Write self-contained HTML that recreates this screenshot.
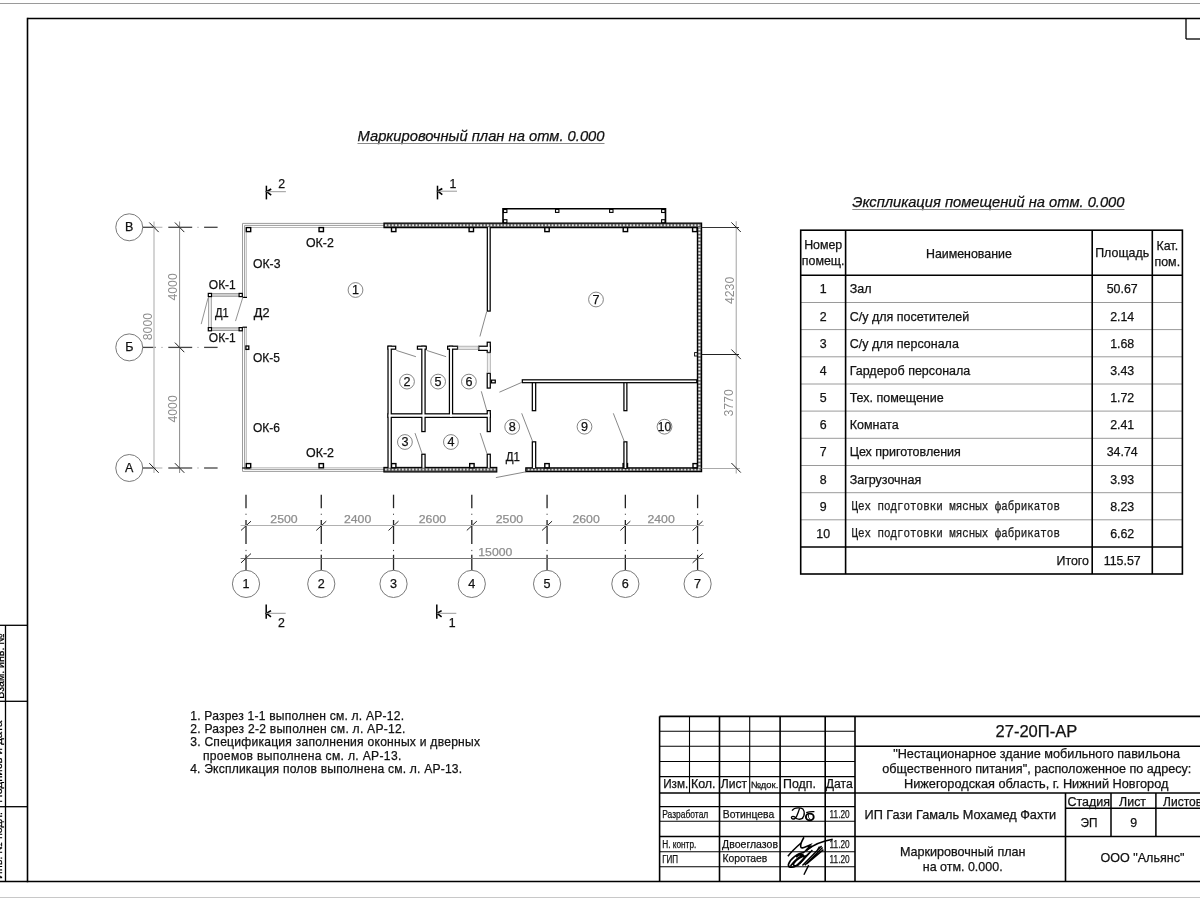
<!DOCTYPE html>
<html><head><meta charset="utf-8"><style>
html,body{margin:0;padding:0;background:#fff;}
svg{display:block;will-change:transform;}
text{font-family:"Liberation Sans", sans-serif;stroke-width:0.25;}
</style></head><body>
<svg width="1200" height="900" viewBox="0 0 1200 900">
<rect width="1200" height="900" fill="#fff"/>
<line x1="0" y1="3.5" x2="1200" y2="3.5" stroke="#9a9a9a" stroke-width="1" />
<line x1="0" y1="897.5" x2="1200" y2="897.5" stroke="#c8c8c8" stroke-width="1" />
<line x1="27.5" y1="18.5" x2="1200" y2="18.5" stroke="#000" stroke-width="1.6" />
<line x1="27.5" y1="17.7" x2="27.5" y2="882.3" stroke="#000" stroke-width="1.6" />
<line x1="0" y1="881.5" x2="1200" y2="881.5" stroke="#000" stroke-width="1.6" />
<line x1="1186" y1="18.5" x2="1186" y2="39" stroke="#000" stroke-width="1.3" />
<line x1="1186" y1="39" x2="1200" y2="39" stroke="#000" stroke-width="1.3" />
<line x1="0" y1="625.3" x2="27.5" y2="625.3" stroke="#000" stroke-width="1.3" />
<line x1="0" y1="701.3" x2="27.5" y2="701.3" stroke="#000" stroke-width="1.3" />
<line x1="0" y1="806.7" x2="27.5" y2="806.7" stroke="#000" stroke-width="1.3" />
<line x1="5.5" y1="625.3" x2="5.5" y2="881.5" stroke="#000" stroke-width="1.3" />
<clipPath id="lc"><rect x="0" y="600" width="4.8" height="290"/></clipPath>
<g clip-path="url(#lc)"><text x="0" y="0" font-size="11.8" text-anchor="middle" textLength="65.4" lengthAdjust="spacingAndGlyphs" stroke="#000" transform="translate(4.3,666.1) rotate(-90)">Взам. инв. №</text></g>
<g clip-path="url(#lc)"><text x="0" y="0" font-size="11.8" text-anchor="middle" textLength="82.3" lengthAdjust="spacingAndGlyphs" stroke="#000" transform="translate(2.0,761.7) rotate(-90)">Подпись и дата</text></g>
<g clip-path="url(#lc)"><text x="0" y="0" font-size="11.8" text-anchor="middle" textLength="67" lengthAdjust="spacingAndGlyphs" stroke="#000" transform="translate(2.0,845.5) rotate(-90)">Инв. № подл.</text></g>
<text x="357.5" y="141" font-size="14.75" text-anchor="start" fill="#111" stroke="#111" font-style="italic" textLength="247" lengthAdjust="spacingAndGlyphs" >Маркировочный план на отм. 0.000</text>
<line x1="357.5" y1="143.5" x2="604.5" y2="143.5" stroke="#8a8a8a" stroke-width="1" />
<circle cx="129.25" cy="227.3" r="13.5" stroke="#7a7a7a" stroke-width="1" fill="none"/>
<text x="129.25" y="231.10000000000002" font-size="12.5" text-anchor="middle" fill="#111" stroke="#111" >В</text>
<line x1="142.75" y1="227.3" x2="155.6" y2="227.3" stroke="#444" stroke-width="1.3" />
<line x1="155.6" y1="227.3" x2="162.4" y2="227.3" stroke="#bbb" stroke-width="1.2" />
<line x1="168.3" y1="227.3" x2="192.2" y2="227.3" stroke="#444" stroke-width="1.3" />
<line x1="197.4" y1="227.3" x2="198.6" y2="227.3" stroke="#999" stroke-width="1.0" />
<line x1="204.1" y1="227.3" x2="217.6" y2="227.3" stroke="#444" stroke-width="1.3" />
<circle cx="129.25" cy="347.4" r="13.5" stroke="#7a7a7a" stroke-width="1" fill="none"/>
<text x="129.25" y="351.2" font-size="12.5" text-anchor="middle" fill="#111" stroke="#111" >Б</text>
<line x1="142.75" y1="347.4" x2="155.6" y2="347.4" stroke="#444" stroke-width="1.3" />
<line x1="161.4" y1="347.4" x2="162.6" y2="347.4" stroke="#999" stroke-width="1.0" />
<line x1="168.3" y1="347.4" x2="192.2" y2="347.4" stroke="#444" stroke-width="1.3" />
<line x1="197.4" y1="347.4" x2="198.6" y2="347.4" stroke="#999" stroke-width="1.0" />
<line x1="204.1" y1="347.4" x2="217.6" y2="347.4" stroke="#444" stroke-width="1.3" />
<circle cx="129.25" cy="468.0" r="13.5" stroke="#7a7a7a" stroke-width="1" fill="none"/>
<text x="129.25" y="471.8" font-size="12.5" text-anchor="middle" fill="#111" stroke="#111" >А</text>
<line x1="142.75" y1="468.0" x2="155.6" y2="468.0" stroke="#444" stroke-width="1.3" />
<line x1="155.6" y1="468.0" x2="162.4" y2="468.0" stroke="#bbb" stroke-width="1.2" />
<line x1="168.3" y1="468.0" x2="192.2" y2="468.0" stroke="#444" stroke-width="1.3" />
<line x1="197.4" y1="468.0" x2="198.6" y2="468.0" stroke="#999" stroke-width="1.0" />
<line x1="204.1" y1="468.0" x2="217.6" y2="468.0" stroke="#444" stroke-width="1.3" />
<line x1="154" y1="221.5" x2="154" y2="473" stroke="#c6c6c6" stroke-width="1.5" />
<line x1="179.6" y1="221.5" x2="179.6" y2="473" stroke="#8a8a8a" stroke-width="1" />
<line x1="149.3" y1="222.5" x2="158.7" y2="232.10000000000002" stroke="#222" stroke-width="1" />
<line x1="174.9" y1="222.5" x2="184.29999999999998" y2="232.10000000000002" stroke="#222" stroke-width="1" />
<line x1="174.9" y1="342.59999999999997" x2="184.29999999999998" y2="352.2" stroke="#222" stroke-width="1" />
<line x1="149.3" y1="463.2" x2="158.7" y2="472.8" stroke="#222" stroke-width="1" />
<line x1="174.9" y1="463.2" x2="184.29999999999998" y2="472.8" stroke="#222" stroke-width="1" />
<text x="0" y="0" font-size="12" text-anchor="middle" fill="#8e8e8e" stroke-width="0" textLength="27.4" lengthAdjust="spacingAndGlyphs" transform="translate(177.3,286.9) rotate(-90)">4000</text>
<text x="0" y="0" font-size="12" text-anchor="middle" fill="#8e8e8e" stroke-width="0" textLength="27.4" lengthAdjust="spacingAndGlyphs" transform="translate(177.3,408.9) rotate(-90)">4000</text>
<text x="0" y="0" font-size="12" text-anchor="middle" fill="#8e8e8e" stroke-width="0" textLength="27.4" lengthAdjust="spacingAndGlyphs" transform="translate(152.0,326.6) rotate(-90)">8000</text>
<line x1="266.4" y1="185.7" x2="266.4" y2="199.4" stroke="#000" stroke-width="1.5" />
<path d="M271.2,189.0 L266.7,191.7 L271.2,195.2" stroke="#000" stroke-width="1.6" fill="none" />
<line x1="266.4" y1="191.7" x2="285.9" y2="191.7" stroke="#999" stroke-width="1" />
<text x="281.7" y="187.6" font-size="12.3" text-anchor="middle" fill="#111" stroke="#111" >2</text>
<line x1="437.5" y1="185.7" x2="437.5" y2="199.4" stroke="#000" stroke-width="1.5" />
<path d="M442.3,188.5 L437.8,191.2 L442.3,194.7" stroke="#000" stroke-width="1.6" fill="none" />
<line x1="437.5" y1="191.2" x2="457.0" y2="191.2" stroke="#999" stroke-width="1" />
<text x="452.8" y="187.6" font-size="12.3" text-anchor="middle" fill="#111" stroke="#111" >1</text>
<line x1="266.2" y1="604.6" x2="266.2" y2="618.7" stroke="#000" stroke-width="1.5" />
<path d="M271.0,610.5999999999999 L266.5,613.3 L271.0,616.8" stroke="#000" stroke-width="1.6" fill="none" />
<line x1="266.2" y1="613.3" x2="285.7" y2="613.3" stroke="#999" stroke-width="1" />
<text x="281.5" y="627.2" font-size="12.3" text-anchor="middle" fill="#111" stroke="#111" >2</text>
<line x1="436.8" y1="604.6" x2="436.8" y2="618.7" stroke="#000" stroke-width="1.5" />
<path d="M441.6,610.5999999999999 L437.1,613.3 L441.6,616.8" stroke="#000" stroke-width="1.6" fill="none" />
<line x1="436.8" y1="613.3" x2="456.3" y2="613.3" stroke="#999" stroke-width="1" />
<text x="452.1" y="627.2" font-size="12.3" text-anchor="middle" fill="#111" stroke="#111" >1</text>
<line x1="242.5" y1="223.4" x2="384" y2="223.4" stroke="#9c9c9c" stroke-width="1" />
<line x1="244.6" y1="225.4" x2="384" y2="225.4" stroke="#9c9c9c" stroke-width="1" />
<line x1="246.3" y1="227.5" x2="384" y2="227.5" stroke="#b8b8b8" stroke-width="1" />
<line x1="242.5" y1="223.4" x2="242.5" y2="297.2" stroke="#9c9c9c" stroke-width="1" />
<line x1="242.5" y1="327.2" x2="242.5" y2="471.4" stroke="#9c9c9c" stroke-width="1" />
<line x1="244.6" y1="225.4" x2="244.6" y2="297.2" stroke="#9c9c9c" stroke-width="1" />
<line x1="244.6" y1="327.2" x2="244.6" y2="469.4" stroke="#9c9c9c" stroke-width="1" />
<line x1="246.3" y1="227.5" x2="246.3" y2="297.2" stroke="#b8b8b8" stroke-width="1" />
<line x1="246.3" y1="327.2" x2="246.3" y2="467.8" stroke="#b8b8b8" stroke-width="1" />
<line x1="242.5" y1="471.4" x2="384" y2="471.4" stroke="#9c9c9c" stroke-width="1" />
<line x1="244.6" y1="469.4" x2="384" y2="469.4" stroke="#9c9c9c" stroke-width="1" />
<line x1="246.3" y1="467.8" x2="384" y2="467.8" stroke="#b8b8b8" stroke-width="1" />
<rect x="208.6" y="293.6" width="33.6" height="2.7" stroke="#9c9c9c" stroke-width="1" fill="#d6d6d6" />
<rect x="208.6" y="327.8" width="33.6" height="2.7" stroke="#9c9c9c" stroke-width="1" fill="#d6d6d6" />
<rect x="208.6" y="296.3" width="2.7" height="31.5" stroke="#9c9c9c" stroke-width="1" fill="#f8f8f8" />
<rect x="208.3" y="293.4" width="3.2" height="3.2" stroke="#000" stroke-width="1.2" fill="#fff" />
<rect x="239.1" y="293.4" width="3.2" height="3.2" stroke="#000" stroke-width="1.2" fill="#fff" />
<rect x="208.3" y="327.59999999999997" width="3.2" height="3.2" stroke="#000" stroke-width="1.2" fill="#fff" />
<rect x="239.1" y="327.59999999999997" width="3.2" height="3.2" stroke="#000" stroke-width="1.2" fill="#fff" />
<line x1="242.5" y1="297.4" x2="247" y2="297.4" stroke="#000" stroke-width="1.2" />
<line x1="242.5" y1="327.2" x2="247" y2="327.2" stroke="#000" stroke-width="1.2" />
<line x1="242.2" y1="468.0" x2="250" y2="468.0" stroke="#111" stroke-width="1.3" />
<line x1="208" y1="298.1" x2="201.2" y2="324.1" stroke="#777" stroke-width="0.8" />
<line x1="242.8" y1="297.4" x2="235.5" y2="321.1" stroke="#777" stroke-width="0.8" />
<defs><pattern id="hp" width="3.4" height="4.4" patternUnits="userSpaceOnUse" y="223.2"><rect width="3.4" height="4.4" fill="#555"/><circle cx="1.7" cy="2.0" r="1.0" fill="#f8f8f8"/></pattern><pattern id="hpb" width="3.4" height="4.4" patternUnits="userSpaceOnUse" y="467.6"><rect width="3.4" height="4.4" fill="#555"/><circle cx="1.7" cy="2.0" r="1.0" fill="#f8f8f8"/></pattern><pattern id="hpv" width="4.4" height="3.4" patternUnits="userSpaceOnUse" x="697.3"><rect width="4.4" height="3.4" fill="#555"/><circle cx="2.1" cy="1.7" r="1.0" fill="#f8f8f8"/></pattern></defs>
<rect x="384" y="223.2" width="317.6" height="4.4" fill="url(#hp)"/>
<rect x="697.4" y="227.6" width="4.2" height="240.2" fill="url(#hpv)"/>
<rect x="525.8" y="467.8" width="175.8" height="3.8" fill="url(#hpb)"/>
<path d="M384,223.2 H701.6 V471.6 H525.8 V467.8 H697.4 V227.6 H384 Z" stroke="#000" stroke-width="1.2" fill="none" />
<rect x="383.9" y="467.4" width="112.9" height="4.6" stroke="#000" stroke-width="1.1" fill="url(#hpb)" />
<path d="M503,223 V208.7 H665.5 V223" stroke="#000" stroke-width="1.6" fill="none" />
<rect x="503.5" y="209.5" width="3.4" height="3.0" stroke="#000" stroke-width="1.1" fill="#fff" />
<rect x="555.5" y="209.4" width="3.4" height="3.0" stroke="#000" stroke-width="1.1" fill="#fff" />
<rect x="609.5999999999999" y="209.4" width="3.4" height="3.0" stroke="#000" stroke-width="1.1" fill="#fff" />
<rect x="661.5999999999999" y="209.5" width="3.4" height="3.0" stroke="#000" stroke-width="1.1" fill="#fff" />
<rect x="503.5" y="219.7" width="3.4" height="3.0" stroke="#000" stroke-width="1.1" fill="#fff" />
<rect x="661.5999999999999" y="219.7" width="3.4" height="3.0" stroke="#000" stroke-width="1.1" fill="#fff" />
<rect x="246.3" y="227.6" width="4.4" height="4.0" stroke="#000" stroke-width="1.4" fill="#fff" />
<rect x="319.05" y="227.6" width="4.4" height="4.0" stroke="#000" stroke-width="1.4" fill="#fff" />
<rect x="391.5" y="227.6" width="4.4" height="4.0" stroke="#000" stroke-width="1.4" fill="#fff" />
<rect x="469.1" y="227.6" width="4.4" height="4.0" stroke="#000" stroke-width="1.4" fill="#fff" />
<rect x="544.8" y="227.6" width="4.4" height="4.0" stroke="#000" stroke-width="1.4" fill="#fff" />
<rect x="623.1999999999999" y="227.6" width="4.4" height="4.0" stroke="#000" stroke-width="1.4" fill="#fff" />
<rect x="692.6" y="227.6" width="4.4" height="4.0" stroke="#000" stroke-width="1.4" fill="#fff" />
<rect x="246.3" y="463.6" width="4.4" height="4.2" stroke="#000" stroke-width="1.4" fill="#fff" />
<rect x="319.05" y="463.6" width="4.4" height="4.2" stroke="#000" stroke-width="1.4" fill="#fff" />
<rect x="391.5" y="463.6" width="4.4" height="4.2" stroke="#000" stroke-width="1.4" fill="#fff" />
<rect x="469.7" y="463.6" width="4.4" height="4.2" stroke="#000" stroke-width="1.4" fill="#fff" />
<rect x="544.8" y="463.6" width="4.4" height="4.2" stroke="#000" stroke-width="1.4" fill="#fff" />
<rect x="623.0999999999999" y="463.6" width="4.4" height="4.2" stroke="#000" stroke-width="1.4" fill="#fff" />
<rect x="693.0" y="463.6" width="4.2" height="4.2" stroke="#000" stroke-width="1.4" fill="#fff" />
<rect x="245.9" y="346.0" width="2.9" height="3.4" stroke="#000" stroke-width="1.3" fill="#fff" />
<rect x="387.4" y="345.6" width="4.5" height="122.2" fill="#000"/>
<rect x="387.4" y="345.6" width="8.9" height="4.2" fill="#000"/>
<rect x="421.2" y="345.6" width="4.5" height="86.6" fill="#000"/>
<rect x="416.8" y="345.6" width="10.1" height="4.2" fill="#000"/>
<rect x="448.8" y="345.6" width="4.4" height="72.4" fill="#000"/>
<rect x="447.0" y="345.6" width="11.2" height="4.2" fill="#000"/>
<rect x="387.4" y="413.2" width="103.5" height="4.8" fill="#000"/>
<rect x="486.6" y="410.0" width="4.3" height="22.2" fill="#000"/>
<rect x="421.2" y="453.6" width="4.5" height="14.2" fill="#000"/>
<rect x="486.6" y="453.6" width="4.3" height="14.2" fill="#000"/>
<rect x="478.1" y="345.6" width="12.8" height="5.4" fill="#000"/>
<rect x="486.6" y="341.6" width="4.3" height="11.5" fill="#000"/>
<rect x="486.6" y="372.7" width="4.3" height="16.0" fill="#000"/>
<rect x="490.9" y="379.5" width="5.0" height="4.0" fill="#000"/>
<rect x="486.7" y="227.0" width="4.1" height="84.7" fill="#000"/>
<rect x="521.7" y="379.2" width="175.7" height="4.1" fill="#000"/>
<rect x="531.7" y="382.05" width="4.6" height="29.25" fill="#000"/>
<rect x="531.7" y="441.2" width="4.6" height="26.8" fill="#000"/>
<rect x="623.3" y="382.05" width="4.2" height="29.25" fill="#000"/>
<rect x="623.3" y="441.2" width="4.2" height="26.8" fill="#000"/>
<rect x="388.65" y="346.85" width="2.0" height="120.95" fill="#fff"/>
<rect x="388.65" y="346.85" width="6.4" height="1.7" fill="#fff"/>
<rect x="422.45" y="346.85" width="2.0" height="84.1" fill="#fff"/>
<rect x="418.05" y="346.85" width="7.6" height="1.7" fill="#fff"/>
<rect x="450.05" y="346.85" width="1.9" height="69.9" fill="#fff"/>
<rect x="448.25" y="346.85" width="8.7" height="1.7" fill="#fff"/>
<rect x="388.65" y="414.45" width="101.0" height="2.3" fill="#fff"/>
<rect x="487.85" y="411.25" width="1.8" height="19.7" fill="#fff"/>
<rect x="422.45" y="454.85" width="2.0" height="12.95" fill="#fff"/>
<rect x="487.85" y="454.85" width="1.8" height="12.95" fill="#fff"/>
<rect x="479.35" y="346.85" width="10.3" height="2.9" fill="#fff"/>
<rect x="487.85" y="342.85" width="1.8" height="9.0" fill="#fff"/>
<rect x="487.85" y="373.95" width="1.8" height="13.5" fill="#fff"/>
<rect x="492.15" y="380.75" width="2.5" height="1.5" fill="#fff"/>
<rect x="487.95" y="227.2" width="1.6" height="83.25" fill="#fff"/>
<rect x="522.95" y="380.45" width="173.2" height="1.6" fill="#fff"/>
<rect x="532.95" y="383.3" width="2.1" height="26.75" fill="#fff"/>
<rect x="532.95" y="442.45" width="2.1" height="25.55" fill="#fff"/>
<rect x="624.55" y="383.3" width="1.7" height="26.75" fill="#fff"/>
<rect x="624.55" y="442.45" width="1.7" height="25.55" fill="#fff"/>
<rect x="458.2" y="346.2" width="19.9" height="3.2" stroke="#a8a8a8" stroke-width="0.8" fill="#e4e4e4" />
<rect x="487.3" y="353.1" width="3.0" height="19.6" stroke="#a8a8a8" stroke-width="0.8" fill="#f0f0f0" />
<line x1="486.7" y1="311.7" x2="479.9" y2="336.5" stroke="#6a6a6a" stroke-width="0.8" />
<line x1="396.3" y1="350.4" x2="415.9" y2="356.7" stroke="#6a6a6a" stroke-width="0.8" />
<line x1="426.6" y1="350.4" x2="446.1" y2="356.7" stroke="#6a6a6a" stroke-width="0.8" />
<line x1="481.3" y1="391.3" x2="486.6" y2="410" stroke="#6a6a6a" stroke-width="0.8" />
<line x1="415" y1="433.1" x2="422.1" y2="453.6" stroke="#6a6a6a" stroke-width="0.8" />
<line x1="480.2" y1="433.1" x2="487" y2="453.6" stroke="#6a6a6a" stroke-width="0.8" />
<line x1="499.4" y1="392.2" x2="521.7" y2="382.4" stroke="#6a6a6a" stroke-width="0.8" />
<line x1="521.7" y1="413.3" x2="532.5" y2="441.2" stroke="#6a6a6a" stroke-width="0.8" />
<line x1="613.3" y1="413.3" x2="624.2" y2="441.2" stroke="#6a6a6a" stroke-width="0.8" />
<line x1="495.9" y1="477.6" x2="526.1" y2="471.8" stroke="#6a6a6a" stroke-width="0.8" />
<circle cx="355.5" cy="290" r="7.4" stroke="#666" stroke-width="0.8" fill="none"/>
<text x="355.5" y="294.3" font-size="12.6" text-anchor="middle" fill="#111" stroke="#111" >1</text>
<circle cx="407" cy="381.6" r="7.4" stroke="#666" stroke-width="0.8" fill="none"/>
<text x="407" y="385.90000000000003" font-size="12.6" text-anchor="middle" fill="#111" stroke="#111" >2</text>
<circle cx="438.1" cy="381.6" r="7.4" stroke="#666" stroke-width="0.8" fill="none"/>
<text x="438.1" y="385.90000000000003" font-size="12.6" text-anchor="middle" fill="#111" stroke="#111" >5</text>
<circle cx="468.9" cy="381.6" r="7.4" stroke="#666" stroke-width="0.8" fill="none"/>
<text x="468.9" y="385.90000000000003" font-size="12.6" text-anchor="middle" fill="#111" stroke="#111" >6</text>
<circle cx="404.9" cy="442" r="7.4" stroke="#666" stroke-width="0.8" fill="none"/>
<text x="404.9" y="446.3" font-size="12.6" text-anchor="middle" fill="#111" stroke="#111" >3</text>
<circle cx="450.9" cy="442" r="7.4" stroke="#666" stroke-width="0.8" fill="none"/>
<text x="450.9" y="446.3" font-size="12.6" text-anchor="middle" fill="#111" stroke="#111" >4</text>
<circle cx="512.2" cy="426.9" r="7.4" stroke="#666" stroke-width="0.8" fill="none"/>
<text x="512.2" y="431.2" font-size="12.6" text-anchor="middle" fill="#111" stroke="#111" >8</text>
<circle cx="596" cy="299.5" r="7.4" stroke="#666" stroke-width="0.8" fill="none"/>
<text x="596" y="303.8" font-size="12.6" text-anchor="middle" fill="#111" stroke="#111" >7</text>
<circle cx="584.5" cy="426.7" r="7.4" stroke="#666" stroke-width="0.8" fill="none"/>
<text x="584.5" y="431.0" font-size="12.6" text-anchor="middle" fill="#111" stroke="#111" >9</text>
<circle cx="664.5" cy="426.7" r="7.4" stroke="#666" stroke-width="0.8" fill="none"/>
<text x="664.5" y="431.0" font-size="12.6" text-anchor="middle" fill="#111" stroke="#111" textLength="13.4" lengthAdjust="spacingAndGlyphs" >10</text>
<text x="306" y="246.79999999999998" font-size="12.3" text-anchor="start" fill="#111" stroke="#111" textLength="27.8" lengthAdjust="spacingAndGlyphs" >ОК-2</text>
<text x="253" y="267.8" font-size="12.3" text-anchor="start" fill="#111" stroke="#111" textLength="27.5" lengthAdjust="spacingAndGlyphs" >ОК-3</text>
<text x="208.8" y="288.8" font-size="12.3" text-anchor="start" fill="#111" stroke="#111" textLength="27" lengthAdjust="spacingAndGlyphs" >ОК-1</text>
<text x="215" y="317.2" font-size="12.3" text-anchor="start" fill="#111" stroke="#111" textLength="13.7" lengthAdjust="spacingAndGlyphs" >Д1</text>
<text x="253.8" y="317.2" font-size="12.3" text-anchor="start" fill="#111" stroke="#111" textLength="15.7" lengthAdjust="spacingAndGlyphs" >Д2</text>
<text x="208.8" y="342.4" font-size="12.3" text-anchor="start" fill="#111" stroke="#111" textLength="27" lengthAdjust="spacingAndGlyphs" >ОК-1</text>
<text x="253" y="362.4" font-size="12.3" text-anchor="start" fill="#111" stroke="#111" textLength="27" lengthAdjust="spacingAndGlyphs" >ОК-5</text>
<text x="253" y="431.59999999999997" font-size="12.3" text-anchor="start" fill="#111" stroke="#111" textLength="27" lengthAdjust="spacingAndGlyphs" >ОК-6</text>
<text x="306" y="457.4" font-size="12.3" text-anchor="start" fill="#111" stroke="#111" textLength="28" lengthAdjust="spacingAndGlyphs" >ОК-2</text>
<text x="505.7" y="460.7" font-size="12.3" text-anchor="start" fill="#111" stroke="#111" textLength="14.2" lengthAdjust="spacingAndGlyphs" >Д1</text>
<line x1="736.3" y1="221.3" x2="736.3" y2="473.5" stroke="#bdbdbd" stroke-width="1.4" />
<line x1="701.7" y1="227.5" x2="739" y2="227.5" stroke="#333" stroke-width="1" />
<line x1="701.7" y1="354.5" x2="739" y2="354.5" stroke="#222" stroke-width="1" />
<line x1="701.7" y1="468.5" x2="740" y2="468.5" stroke="#aaa" stroke-width="1" />
<line x1="731.4" y1="222.39999999999998" x2="740.8000000000001" y2="232.0" stroke="#222" stroke-width="1" />
<line x1="731.4" y1="349.5" x2="740.8000000000001" y2="359.1" stroke="#222" stroke-width="1" />
<line x1="731.4" y1="463.0" x2="740.8000000000001" y2="472.6" stroke="#222" stroke-width="1" />
<rect x="694.6" y="352.6" width="2.6" height="3.4" stroke="#000" stroke-width="0.9" fill="#fff" />
<text x="0" y="0" font-size="12" text-anchor="middle" fill="#8e8e8e" stroke-width="0" textLength="27.4" lengthAdjust="spacingAndGlyphs" transform="translate(734.0,290.4) rotate(-90)">4230</text>
<text x="0" y="0" font-size="12" text-anchor="middle" fill="#8e8e8e" stroke-width="0" textLength="27.4" lengthAdjust="spacingAndGlyphs" transform="translate(733.4,402.9) rotate(-90)">3770</text>
<line x1="246" y1="494.7" x2="246" y2="508.2" stroke="#222" stroke-width="1.3" />
<line x1="246" y1="513.7" x2="246" y2="514.9" stroke="#444" stroke-width="1" />
<line x1="246" y1="520" x2="246" y2="544" stroke="#222" stroke-width="1.3" />
<line x1="246" y1="549.9" x2="246" y2="551.1" stroke="#444" stroke-width="1" />
<line x1="246" y1="554.8" x2="246" y2="570.2" stroke="#222" stroke-width="1.3" />
<circle cx="246" cy="583.9" r="13.6" stroke="#7a7a7a" stroke-width="1" fill="none"/>
<text x="246" y="588.3" font-size="12.6" text-anchor="middle" fill="#111" stroke="#111" >1</text>
<line x1="241" y1="530.4499999999999" x2="251" y2="521.15" stroke="#222" stroke-width="1" />
<line x1="321.27" y1="494.7" x2="321.27" y2="508.2" stroke="#222" stroke-width="1.3" />
<line x1="321.27" y1="513.7" x2="321.27" y2="514.9" stroke="#444" stroke-width="1" />
<line x1="321.27" y1="520" x2="321.27" y2="544" stroke="#222" stroke-width="1.3" />
<line x1="321.27" y1="549.9" x2="321.27" y2="551.1" stroke="#444" stroke-width="1" />
<line x1="321.27" y1="554.8" x2="321.27" y2="570.2" stroke="#222" stroke-width="1.3" />
<circle cx="321.27" cy="583.9" r="13.6" stroke="#7a7a7a" stroke-width="1" fill="none"/>
<text x="321.27" y="588.3" font-size="12.6" text-anchor="middle" fill="#111" stroke="#111" >2</text>
<line x1="316.27" y1="530.4499999999999" x2="326.27" y2="521.15" stroke="#222" stroke-width="1" />
<line x1="393.53" y1="494.7" x2="393.53" y2="508.2" stroke="#222" stroke-width="1.3" />
<line x1="393.53" y1="513.7" x2="393.53" y2="514.9" stroke="#444" stroke-width="1" />
<line x1="393.53" y1="520" x2="393.53" y2="544" stroke="#222" stroke-width="1.3" />
<line x1="393.53" y1="549.9" x2="393.53" y2="551.1" stroke="#444" stroke-width="1" />
<line x1="393.53" y1="554.8" x2="393.53" y2="570.2" stroke="#222" stroke-width="1.3" />
<circle cx="393.53" cy="583.9" r="13.6" stroke="#7a7a7a" stroke-width="1" fill="none"/>
<text x="393.53" y="588.3" font-size="12.6" text-anchor="middle" fill="#111" stroke="#111" >3</text>
<line x1="388.53" y1="530.4499999999999" x2="398.53" y2="521.15" stroke="#222" stroke-width="1" />
<line x1="471.8" y1="494.7" x2="471.8" y2="508.2" stroke="#222" stroke-width="1.3" />
<line x1="471.8" y1="513.7" x2="471.8" y2="514.9" stroke="#444" stroke-width="1" />
<line x1="471.8" y1="520" x2="471.8" y2="544" stroke="#222" stroke-width="1.3" />
<line x1="471.8" y1="549.9" x2="471.8" y2="551.1" stroke="#444" stroke-width="1" />
<line x1="471.8" y1="554.8" x2="471.8" y2="570.2" stroke="#222" stroke-width="1.3" />
<circle cx="471.8" cy="583.9" r="13.6" stroke="#7a7a7a" stroke-width="1" fill="none"/>
<text x="471.8" y="588.3" font-size="12.6" text-anchor="middle" fill="#111" stroke="#111" >4</text>
<line x1="466.8" y1="530.4499999999999" x2="476.8" y2="521.15" stroke="#222" stroke-width="1" />
<line x1="547.07" y1="494.7" x2="547.07" y2="508.2" stroke="#222" stroke-width="1.3" />
<line x1="547.07" y1="513.7" x2="547.07" y2="514.9" stroke="#444" stroke-width="1" />
<line x1="547.07" y1="520" x2="547.07" y2="544" stroke="#222" stroke-width="1.3" />
<line x1="547.07" y1="549.9" x2="547.07" y2="551.1" stroke="#444" stroke-width="1" />
<line x1="547.07" y1="554.8" x2="547.07" y2="570.2" stroke="#222" stroke-width="1.3" />
<circle cx="547.07" cy="583.9" r="13.6" stroke="#7a7a7a" stroke-width="1" fill="none"/>
<text x="547.07" y="588.3" font-size="12.6" text-anchor="middle" fill="#111" stroke="#111" >5</text>
<line x1="542.07" y1="530.4499999999999" x2="552.07" y2="521.15" stroke="#222" stroke-width="1" />
<line x1="625.35" y1="494.7" x2="625.35" y2="508.2" stroke="#222" stroke-width="1.3" />
<line x1="625.35" y1="513.7" x2="625.35" y2="514.9" stroke="#444" stroke-width="1" />
<line x1="625.35" y1="520" x2="625.35" y2="544" stroke="#222" stroke-width="1.3" />
<line x1="625.35" y1="549.9" x2="625.35" y2="551.1" stroke="#444" stroke-width="1" />
<line x1="625.35" y1="554.8" x2="625.35" y2="570.2" stroke="#222" stroke-width="1.3" />
<circle cx="625.35" cy="583.9" r="13.6" stroke="#7a7a7a" stroke-width="1" fill="none"/>
<text x="625.35" y="588.3" font-size="12.6" text-anchor="middle" fill="#111" stroke="#111" >6</text>
<line x1="620.35" y1="530.4499999999999" x2="630.35" y2="521.15" stroke="#222" stroke-width="1" />
<line x1="697.6" y1="494.7" x2="697.6" y2="508.2" stroke="#222" stroke-width="1.3" />
<line x1="697.6" y1="513.7" x2="697.6" y2="514.9" stroke="#444" stroke-width="1" />
<line x1="697.6" y1="520" x2="697.6" y2="544" stroke="#222" stroke-width="1.3" />
<line x1="697.6" y1="549.9" x2="697.6" y2="551.1" stroke="#444" stroke-width="1" />
<line x1="697.6" y1="554.8" x2="697.6" y2="570.2" stroke="#222" stroke-width="1.3" />
<circle cx="697.6" cy="583.9" r="13.6" stroke="#7a7a7a" stroke-width="1" fill="none"/>
<text x="697.6" y="588.3" font-size="12.6" text-anchor="middle" fill="#111" stroke="#111" >7</text>
<line x1="692.6" y1="530.4499999999999" x2="702.6" y2="521.15" stroke="#222" stroke-width="1" />
<line x1="240.6" y1="525.5" x2="703.8" y2="525.5" stroke="#b0b0b0" stroke-width="1" />
<line x1="240.6" y1="558.5" x2="703.8" y2="558.5" stroke="#777" stroke-width="1" />
<line x1="241" y1="562.85" x2="251" y2="553.5500000000001" stroke="#222" stroke-width="1" />
<line x1="692.6" y1="562.85" x2="702.6" y2="553.5500000000001" stroke="#222" stroke-width="1" />
<text x="284" y="523.3" font-size="11.6" text-anchor="middle" fill="#8e8e8e" stroke="#8e8e8e" textLength="27.3" lengthAdjust="spacingAndGlyphs"  stroke-width="0">2500</text>
<text x="357.6" y="523.3" font-size="11.6" text-anchor="middle" fill="#8e8e8e" stroke="#8e8e8e" textLength="27.3" lengthAdjust="spacingAndGlyphs"  stroke-width="0">2400</text>
<text x="432.4" y="523.3" font-size="11.6" text-anchor="middle" fill="#8e8e8e" stroke="#8e8e8e" textLength="27.3" lengthAdjust="spacingAndGlyphs"  stroke-width="0">2600</text>
<text x="509.4" y="523.3" font-size="11.6" text-anchor="middle" fill="#8e8e8e" stroke="#8e8e8e" textLength="27.3" lengthAdjust="spacingAndGlyphs"  stroke-width="0">2500</text>
<text x="586.1" y="523.3" font-size="11.6" text-anchor="middle" fill="#8e8e8e" stroke="#8e8e8e" textLength="27.3" lengthAdjust="spacingAndGlyphs"  stroke-width="0">2600</text>
<text x="661.1" y="523.3" font-size="11.6" text-anchor="middle" fill="#8e8e8e" stroke="#8e8e8e" textLength="27.3" lengthAdjust="spacingAndGlyphs"  stroke-width="0">2400</text>
<text x="495.3" y="555.8" font-size="11.6" text-anchor="middle" fill="#8e8e8e" stroke="#8e8e8e" textLength="34" lengthAdjust="spacingAndGlyphs"  stroke-width="0">15000</text>
<text x="852.3" y="206.6" font-size="14.5" text-anchor="start" fill="#111" stroke="#111" font-style="italic" textLength="272.2" lengthAdjust="spacingAndGlyphs" >Экспликация помещений на отм. 0.000</text>
<line x1="852.3" y1="209.5" x2="1124.5" y2="209.5" stroke="#8a8a8a" stroke-width="1" />
<line x1="800.7" y1="302.5" x2="1182.4" y2="302.5" stroke="#9a9a9a" stroke-width="1" />
<line x1="800.7" y1="329.6" x2="1182.4" y2="329.6" stroke="#9a9a9a" stroke-width="1" />
<line x1="800.7" y1="356.8" x2="1182.4" y2="356.8" stroke="#9a9a9a" stroke-width="1" />
<line x1="800.7" y1="384.0" x2="1182.4" y2="384.0" stroke="#9a9a9a" stroke-width="1" />
<line x1="800.7" y1="411.1" x2="1182.4" y2="411.1" stroke="#9a9a9a" stroke-width="1" />
<line x1="800.7" y1="438.3" x2="1182.4" y2="438.3" stroke="#9a9a9a" stroke-width="1" />
<line x1="800.7" y1="465.5" x2="1182.4" y2="465.5" stroke="#9a9a9a" stroke-width="1" />
<line x1="800.7" y1="492.7" x2="1182.4" y2="492.7" stroke="#9a9a9a" stroke-width="1" />
<line x1="800.7" y1="519.8" x2="1182.4" y2="519.8" stroke="#9a9a9a" stroke-width="1" />
<line x1="800.7" y1="275.3" x2="1182.4" y2="275.3" stroke="#000" stroke-width="1.6" />
<line x1="800.7" y1="547.0" x2="1182.4" y2="547.0" stroke="#000" stroke-width="1.6" />
<rect x="800.7" y="230.2" width="381.70000000000005" height="343.8" stroke="#000" stroke-width="1.6" fill="none" />
<line x1="845.6" y1="230.2" x2="845.6" y2="574.0" stroke="#000" stroke-width="1.6" />
<line x1="1092.2" y1="230.2" x2="1092.2" y2="574.0" stroke="#000" stroke-width="1.6" />
<line x1="1152.3" y1="230.2" x2="1152.3" y2="574.0" stroke="#000" stroke-width="1.6" />
<text x="823.2" y="249.2" font-size="12.4" text-anchor="middle" fill="#111" stroke="#111" >Номер</text>
<text x="823.2" y="264.6" font-size="12.4" text-anchor="middle" fill="#111" stroke="#111" >помещ.</text>
<text x="968.9" y="257.8" font-size="12.4" text-anchor="middle" fill="#111" stroke="#111" >Наименование</text>
<text x="1122.2" y="256.8" font-size="12.4" text-anchor="middle" fill="#111" stroke="#111" >Площадь</text>
<text x="1167.3" y="250.2" font-size="12.4" text-anchor="middle" fill="#111" stroke="#111" >Кат.</text>
<text x="1167.3" y="265.6" font-size="12.4" text-anchor="middle" fill="#111" stroke="#111" >пом.</text>
<text x="823.2" y="293.3" font-size="12.4" text-anchor="middle" fill="#111" stroke="#111" >1</text>
<text x="849.7" y="293.3" font-size="12.5" text-anchor="start" fill="#111" stroke="#111" >Зал</text>
<text x="1122.2" y="293.3" font-size="12.4" text-anchor="middle" fill="#111" stroke="#111" >50.67</text>
<text x="823.2" y="320.5" font-size="12.4" text-anchor="middle" fill="#111" stroke="#111" >2</text>
<text x="849.7" y="320.5" font-size="12.5" text-anchor="start" fill="#111" stroke="#111" >С/у для посетителей</text>
<text x="1122.2" y="320.5" font-size="12.4" text-anchor="middle" fill="#111" stroke="#111" >2.14</text>
<text x="823.2" y="347.6" font-size="12.4" text-anchor="middle" fill="#111" stroke="#111" >3</text>
<text x="849.7" y="347.6" font-size="12.5" text-anchor="start" fill="#111" stroke="#111" >С/у для персонала</text>
<text x="1122.2" y="347.6" font-size="12.4" text-anchor="middle" fill="#111" stroke="#111" >1.68</text>
<text x="823.2" y="374.8" font-size="12.4" text-anchor="middle" fill="#111" stroke="#111" >4</text>
<text x="849.7" y="374.8" font-size="12.5" text-anchor="start" fill="#111" stroke="#111" >Гардероб персонала</text>
<text x="1122.2" y="374.8" font-size="12.4" text-anchor="middle" fill="#111" stroke="#111" >3.43</text>
<text x="823.2" y="402.0" font-size="12.4" text-anchor="middle" fill="#111" stroke="#111" >5</text>
<text x="849.7" y="402.0" font-size="12.5" text-anchor="start" fill="#111" stroke="#111" >Тех. помещение</text>
<text x="1122.2" y="402.0" font-size="12.4" text-anchor="middle" fill="#111" stroke="#111" >1.72</text>
<text x="823.2" y="429.1" font-size="12.4" text-anchor="middle" fill="#111" stroke="#111" >6</text>
<text x="849.7" y="429.1" font-size="12.5" text-anchor="start" fill="#111" stroke="#111" >Комната</text>
<text x="1122.2" y="429.1" font-size="12.4" text-anchor="middle" fill="#111" stroke="#111" >2.41</text>
<text x="823.2" y="456.3" font-size="12.4" text-anchor="middle" fill="#111" stroke="#111" >7</text>
<text x="849.7" y="456.3" font-size="12.5" text-anchor="start" fill="#111" stroke="#111" >Цех приготовления</text>
<text x="1122.2" y="456.3" font-size="12.4" text-anchor="middle" fill="#111" stroke="#111" >34.74</text>
<text x="823.2" y="483.5" font-size="12.4" text-anchor="middle" fill="#111" stroke="#111" >8</text>
<text x="849.7" y="483.5" font-size="12.5" text-anchor="start" fill="#111" stroke="#111" >Загрузочная</text>
<text x="1122.2" y="483.5" font-size="12.4" text-anchor="middle" fill="#111" stroke="#111" >3.93</text>
<text x="823.2" y="510.6" font-size="12.4" text-anchor="middle" fill="#111" stroke="#111" >9</text>
<text x="851.5" y="510.20000000000005" font-size="12.4" text-anchor="start" fill="#1a1a1a" stroke="#1a1a1a" textLength="208.4" lengthAdjust="spacingAndGlyphs" stroke-width="0" style="font-family:'Liberation Mono', monospace">Цех подготовки мясных фабрикатов</text>
<text x="1122.2" y="510.6" font-size="12.4" text-anchor="middle" fill="#111" stroke="#111" >8.23</text>
<text x="823.2" y="537.8" font-size="12.4" text-anchor="middle" fill="#111" stroke="#111" >10</text>
<text x="851.5" y="537.4" font-size="12.4" text-anchor="start" fill="#1a1a1a" stroke="#1a1a1a" textLength="208.4" lengthAdjust="spacingAndGlyphs" stroke-width="0" style="font-family:'Liberation Mono', monospace">Цех подготовки мясных фабрикатов</text>
<text x="1122.2" y="537.8" font-size="12.4" text-anchor="middle" fill="#111" stroke="#111" >6.62</text>
<text x="1089" y="565.0" font-size="12.4" text-anchor="end" fill="#111" stroke="#111" >Итого</text>
<text x="1122.2" y="565.0" font-size="12.4" text-anchor="middle" fill="#111" stroke="#111" >115.57</text>
<text x="190.2" y="719.6" font-size="12.1" text-anchor="start" fill="#111" stroke="#111" textLength="213.8" lengthAdjust="spacing" >1. Разрез 1-1 выполнен см. л. АР-12.</text>
<text x="190.2" y="732.9" font-size="12.1" text-anchor="start" fill="#111" stroke="#111" textLength="215.1" lengthAdjust="spacing" >2. Разрез 2-2 выполнен см. л. АР-12.</text>
<text x="190.2" y="746.25" font-size="12.1" text-anchor="start" fill="#111" stroke="#111" textLength="289.8" lengthAdjust="spacing" >3. Спецификация заполнения оконных и дверных</text>
<text x="202.9" y="759.6" font-size="12.1" text-anchor="start" fill="#111" stroke="#111" textLength="198.4" lengthAdjust="spacing" >проемов выполнена см. л. АР-13.</text>
<text x="190.2" y="772.9" font-size="12.1" text-anchor="start" fill="#111" stroke="#111" textLength="271.9" lengthAdjust="spacing" >4. Экспликация полов выполнена см. л. АР-13.</text>
<line x1="659.6" y1="716.3" x2="1200" y2="716.3" stroke="#000" stroke-width="1.8" />
<line x1="659.6" y1="716.3" x2="659.6" y2="881.5" stroke="#000" stroke-width="1.6" />
<line x1="689.5" y1="716.3" x2="689.5" y2="793.0" stroke="#000" stroke-width="1.1" />
<line x1="749.7" y1="716.3" x2="749.7" y2="793.0" stroke="#000" stroke-width="1.1" />
<line x1="719.5" y1="716.3" x2="719.5" y2="881.5" stroke="#000" stroke-width="1.6" />
<line x1="780.1" y1="716.3" x2="780.1" y2="881.5" stroke="#000" stroke-width="1.6" />
<line x1="825.2" y1="716.3" x2="825.2" y2="881.5" stroke="#000" stroke-width="1.6" />
<line x1="855.0" y1="716.3" x2="855.0" y2="881.5" stroke="#000" stroke-width="1.6" />
<line x1="659.6" y1="731.2" x2="855.0" y2="731.2" stroke="#000" stroke-width="1.1" />
<line x1="659.6" y1="746.3" x2="855.0" y2="746.3" stroke="#000" stroke-width="1.1" />
<line x1="659.6" y1="761.5" x2="855.0" y2="761.5" stroke="#000" stroke-width="1.1" />
<line x1="659.6" y1="776.7" x2="855.0" y2="776.7" stroke="#000" stroke-width="1.3" />
<line x1="659.6" y1="793.0" x2="1200" y2="793.0" stroke="#000" stroke-width="1.7" />
<line x1="659.6" y1="806.6" x2="855.0" y2="806.6" stroke="#000" stroke-width="1.1" />
<line x1="659.6" y1="821.3" x2="855.0" y2="821.3" stroke="#000" stroke-width="1.1" />
<line x1="659.6" y1="851.8" x2="855.0" y2="851.8" stroke="#000" stroke-width="1.1" />
<line x1="659.6" y1="866.8" x2="855.0" y2="866.8" stroke="#000" stroke-width="1.1" />
<line x1="659.6" y1="836.6" x2="1200" y2="836.6" stroke="#000" stroke-width="1.5" />
<line x1="855.0" y1="746.3" x2="1200" y2="746.3" stroke="#000" stroke-width="1.6" />
<line x1="1065.5" y1="793.0" x2="1065.5" y2="881.5" stroke="#000" stroke-width="1.6" />
<line x1="1065.5" y1="808.2" x2="1200" y2="808.2" stroke="#000" stroke-width="1.5" />
<line x1="1111.0" y1="793.0" x2="1111.0" y2="836.6" stroke="#000" stroke-width="1.5" />
<line x1="1155.9" y1="793.0" x2="1155.9" y2="836.6" stroke="#000" stroke-width="1.5" />
<text x="663.2" y="788.4" font-size="12.5" text-anchor="start" fill="#111" stroke="#111" textLength="25.1" lengthAdjust="spacingAndGlyphs" >Изм.</text>
<text x="690.9" y="788.4" font-size="12.5" text-anchor="start" fill="#111" stroke="#111" textLength="24.7" lengthAdjust="spacingAndGlyphs" >Кол.</text>
<text x="720.8" y="788.4" font-size="12.5" text-anchor="start" fill="#111" stroke="#111" textLength="26.4" lengthAdjust="spacingAndGlyphs" >Лист</text>
<text x="750.7" y="788.4" font-size="9.2" text-anchor="start" fill="#111" stroke="#111" textLength="27.6" lengthAdjust="spacingAndGlyphs" >№док.</text>
<text x="783.1" y="788.4" font-size="12.5" text-anchor="start" fill="#111" stroke="#111" textLength="32.8" lengthAdjust="spacingAndGlyphs" >Подп.</text>
<text x="825.8" y="788.4" font-size="12.5" text-anchor="start" fill="#111" stroke="#111" textLength="27" lengthAdjust="spacingAndGlyphs" >Дата</text>
<text x="662.2" y="817.8" font-size="11.2" text-anchor="start" fill="#111" stroke="#111" textLength="46.1" lengthAdjust="spacingAndGlyphs" >Разработал</text>
<text x="722.8" y="817.8" font-size="11.5" text-anchor="start" fill="#111" stroke="#111" textLength="51.4" lengthAdjust="spacingAndGlyphs" >Вотинцева</text>
<text x="829.6" y="817.8" font-size="11.0" text-anchor="start" fill="#111" stroke="#111" textLength="20.1" lengthAdjust="spacingAndGlyphs" >11.20</text>
<text x="662.2" y="847.9" font-size="10.0" text-anchor="start" fill="#111" stroke="#111" textLength="34.1" lengthAdjust="spacingAndGlyphs" >Н. контр.</text>
<text x="722.1" y="847.9" font-size="11.5" text-anchor="start" fill="#111" stroke="#111" textLength="55.9" lengthAdjust="spacingAndGlyphs" >Двоеглазов</text>
<text x="829.6" y="847.9" font-size="11.0" text-anchor="start" fill="#111" stroke="#111" textLength="20.1" lengthAdjust="spacingAndGlyphs" >11.20</text>
<text x="662.2" y="862.6" font-size="10.0" text-anchor="start" fill="#111" stroke="#111" textLength="15.9" lengthAdjust="spacingAndGlyphs" >ГИП</text>
<text x="722.5" y="862.4" font-size="11.5" text-anchor="start" fill="#111" stroke="#111" textLength="44.9" lengthAdjust="spacingAndGlyphs" >Коротаев</text>
<text x="829.6" y="863.0" font-size="11.0" text-anchor="start" fill="#111" stroke="#111" textLength="20.1" lengthAdjust="spacingAndGlyphs" >11.20</text>
<text x="1036.4" y="736.8" font-size="16.1" text-anchor="middle" fill="#111" stroke="#111" textLength="81.7" lengthAdjust="spacingAndGlyphs" >27-20П-АР</text>
<text x="1036.6" y="758.1" font-size="12.5" text-anchor="middle" fill="#111" stroke="#111" textLength="286.7" lengthAdjust="spacingAndGlyphs" >"Нестационарное здание мобильного павильона</text>
<text x="1036.8" y="772.5" font-size="12.5" text-anchor="middle" fill="#111" stroke="#111" textLength="309.1" lengthAdjust="spacingAndGlyphs" >общественного питания", расположенное по адресу:</text>
<text x="1036.2" y="788.3" font-size="12.5" text-anchor="middle" fill="#111" stroke="#111" textLength="264.5" lengthAdjust="spacingAndGlyphs" >Нижегородская область, г. Нижний Новгород</text>
<text x="960.3" y="819.3" font-size="12.4" text-anchor="middle" fill="#111" stroke="#111" textLength="191.6" lengthAdjust="spacingAndGlyphs" >ИП Гази Гамаль Мохамед Фахти</text>
<text x="962.7" y="855.5" font-size="12.4" text-anchor="middle" fill="#111" stroke="#111" textLength="125.6" lengthAdjust="spacingAndGlyphs" >Маркировочный план</text>
<text x="962.7" y="870.7" font-size="12.4" text-anchor="middle" fill="#111" stroke="#111" textLength="79.8" lengthAdjust="spacingAndGlyphs" >на отм. 0.000.</text>
<text x="1067.5" y="805.6" font-size="12.0" text-anchor="start" fill="#111" stroke="#111" textLength="42.5" lengthAdjust="spacingAndGlyphs" >Стадия</text>
<text x="1119.1" y="805.6" font-size="12.0" text-anchor="start" fill="#111" stroke="#111" textLength="26.9" lengthAdjust="spacingAndGlyphs" >Лист</text>
<text x="1163.1" y="805.6" font-size="12.0" text-anchor="start" fill="#111" stroke="#111" >Листов</text>
<text x="1089.0" y="827.3" font-size="12.4" text-anchor="middle" fill="#111" stroke="#111" textLength="16.9" lengthAdjust="spacingAndGlyphs" >ЭП</text>
<text x="1133.8" y="827.3" font-size="12.4" text-anchor="middle" fill="#111" stroke="#111" >9</text>
<text x="1142.5" y="861.9" font-size="12.4" text-anchor="middle" fill="#111" stroke="#111" textLength="83.8" lengthAdjust="spacingAndGlyphs" >ООО "Альянс"</text>
<path d="M792,810.6 C793.5,808.5 797.5,807.6 801,808.2 C804.3,808.8 804.8,813 803.8,816 C802.8,819 799.5,819.6 796.5,818.6 M799.6,808.6 C798.2,812 797.2,816 795.6,818 C794,819.6 791.4,819.2 791.4,817.6 C791.4,816 794,815.8 796.2,818.2 C798.2,819.6 801.2,819.2 803.2,818.2" stroke="#000" stroke-width="1.3" fill="none" />
<path d="M806.2,812.6 C808.5,811.8 812,811.4 814.4,811.6" stroke="#000" stroke-width="1.2" fill="none" />
<ellipse cx="809.8" cy="816.9" rx="3.9" ry="3.3" stroke="#000" stroke-width="1.9" fill="#fff"/>
<path d="M808.6,814.6 C808,816.5 808.6,818.8 810.2,819" stroke="#000" stroke-width="0.9" fill="none" />
<path d="M787.9,856.3 C792,851 797,846.5 801,843 L803.9,837.3 C802,840.5 800.5,845 800.7,846.6 C801,848.6 803,848 806.5,846.4 L810.3,844.8 C809,846.5 808,848 807.6,849.6 C812,846 820,841.5 832.7,839.2" stroke="#000" stroke-width="1.6" fill="none" />
<path d="M803.3,852.8 C798,853 790,859 788.4,864.5 C788,867.5 792,868.2 796,866 C800,864 803,860 805.5,856 C803,855.5 797,859 794,863 C792,866 796,866.6 799,864.5 M796,857 C799,855 802,854 803,855 M790.5,866 C795,860 800,856 804,855" stroke="#000" stroke-width="1.6" fill="none" />
<path d="M802.4,865.6 L821.6,846 M804.8,865.2 L822.6,847.4 M806.6,864 L823.4,849.6 M808.7,865.1 L803.9,874.7 M799.4,864 L812.4,850 M796.6,865.6 L810.6,851.4 M819.5,846.5 L816.5,851.5" stroke="#000" stroke-width="1.4" fill="none" />
<path d="M806,850 L812,846 M803,853 L809,848" stroke="#000" stroke-width="1.6" fill="none" />
</svg></body></html>
